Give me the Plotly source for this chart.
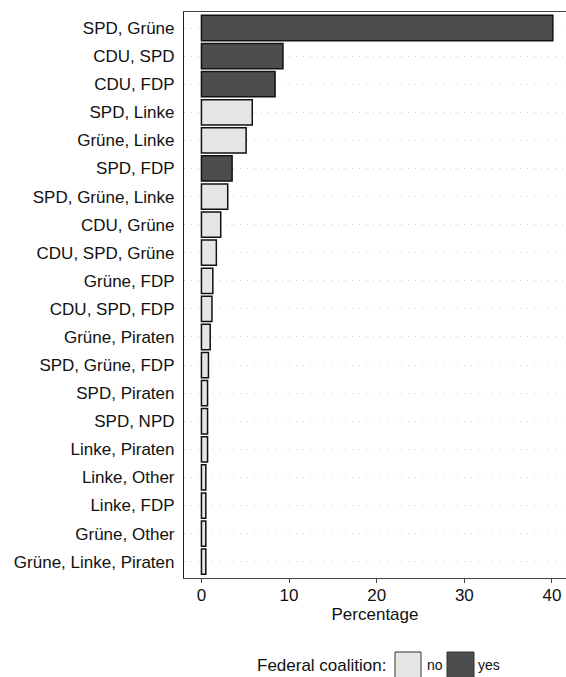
import plotly.graph_objects as go

categories = ["SPD, Grüne", "CDU, SPD", "CDU, FDP", "SPD, Linke", "Grüne, Linke",
              "SPD, FDP", "SPD, Grüne, Linke", "CDU, Grüne", "CDU, SPD, Grüne",
              "Grüne, FDP", "CDU, SPD, FDP", "Grüne, Piraten", "SPD, Grüne, FDP",
              "SPD, Piraten", "SPD, NPD", "Linke, Piraten", "Linke, Other",
              "Linke, FDP", "Grüne, Other", "Grüne, Linke, Piraten"]
percentages = [40.1, 9.3, 8.4, 5.8, 5.1, 3.5, 3.0, 2.2, 1.7, 1.3, 1.2, 1.0, 0.8,
               0.7, 0.7, 0.7, 0.5, 0.5, 0.5, 0.5]
federal = ["yes", "yes", "yes", "no", "no", "yes", "no", "no", "no", "no", "no",
           "no", "no", "no", "no", "no", "no", "no", "no", "no"]
x_ticks = [0, 10, 20, 30, 40]

COLORS = {"no": "#E5E5E5", "yes": "#4D4D4D"}
FONT = "Liberation Sans, Arial, Helvetica, sans-serif"

fig = go.Figure()
fig.add_trace(go.Bar(
    x=percentages, y=categories, orientation="h", width=0.9,
    marker=dict(color=[COLORS[f] for f in federal],
                line=dict(color="#111111", width=1.5)),
    showlegend=False,
))

OFF = 0  # page body margin removed below
W, H = 566, 677
# plot area in screen pixels: x 184..566, y 12..578
L = 184 - OFF
T = 12 - OFF
R = W - (566 - OFF)
B = H - (578 - OFF)
pw, ph = W - L - R, H - T - B


def px(x):
    return (x - OFF - L) / pw


def py(y):
    return (H - B - (y - OFF)) / ph


shapes = [
    dict(type="rect", xref="paper", yref="paper", x0=px(395), x1=px(421),
         y0=py(652), y1=py(682), fillcolor=COLORS["no"],
         line=dict(color="#333333", width=1)),
    dict(type="rect", xref="paper", yref="paper", x0=px(447), x1=px(474),
         y0=py(652), y1=py(682), fillcolor=COLORS["yes"],
         line=dict(color="#333333", width=1)),
]
annotations = [
    dict(text="Federal coalition:", xref="paper", yref="paper", x=px(388), y=py(665),
         xanchor="right", yanchor="middle", showarrow=False,
         font=dict(size=17, color="#111111", family=FONT)),
    dict(text="no", xref="paper", yref="paper", x=px(425), y=py(665),
         xanchor="left", yanchor="middle", showarrow=False,
         font=dict(size=14, color="#111111", family=FONT)),
    dict(text="yes", xref="paper", yref="paper", x=px(476), y=py(665),
         xanchor="left", yanchor="middle", showarrow=False,
         font=dict(size=14, color="#111111", family=FONT)),
]

fig.update_layout(
    width=W, height=H,
    margin=dict(l=L, r=R, t=T, b=B, pad=0),
    paper_bgcolor="white", plot_bgcolor="white",
    font=dict(family=FONT, size=17, color="#111111"),
    shapes=shapes, annotations=annotations,
    showlegend=False,
)
fig.update_xaxes(
    range=[-1.99, 41.6], tickvals=x_ticks, ticks="outside", ticklen=4,
    tickcolor="#444444", showline=True, linecolor="#444444", linewidth=1.3,
    mirror=True, showgrid=False, zeroline=False,
    ticklabelstandoff=-3, ticklabeloverflow="allow",
    title=dict(text="Percentage", standoff=2, font=dict(size=17)),
    tickfont=dict(size=17),
)
fig.update_yaxes(
    categoryorder="array", categoryarray=categories, range=[19.58, -0.57],
    showline=True, linecolor="#222222", linewidth=1.2, ticks="",
    ticklabelstandoff=5, showgrid=True, gridcolor="#CFCFCF", gridwidth=1,
    griddash="1px,6px", zeroline=False, tickfont=dict(size=17),
)

fig.write_html(
    "out.html",
    config={"displayModeBar": False},
    post_script="document.body.style.margin='0';document.body.style.overflow='hidden';",
)
